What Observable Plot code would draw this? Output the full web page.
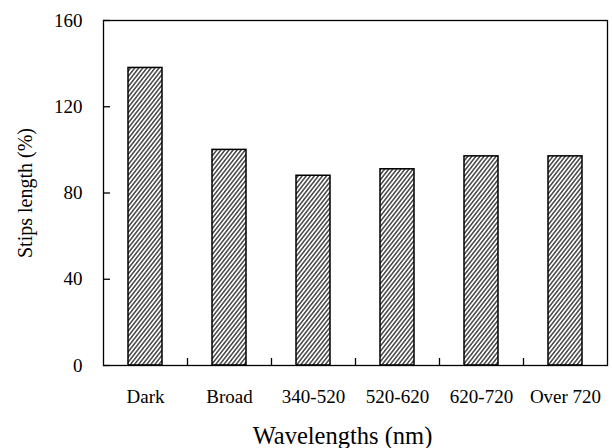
<!DOCTYPE html>
<html><head><meta charset="utf-8">
<script src="https://cdn.jsdelivr.net/npm/d3@7"></script>
<script src="https://cdn.jsdelivr.net/npm/@observablehq/plot@0.6"></script>
<style>body{margin:0;background:#fff}</style>
</head><body><div id="chart"></div>
<script>
const categories = ["Dark", "Broad", "340-520", "520-620", "620-720", "Over 720"];
const values = [138, 100, 88, 91, 97, 97];
const yTicks = [0, 40, 80, 120, 160];
const data = categories.map((c, i) => ({cat: c, value: values[i]}));

const W = 612, H = 448, mL = 103, mR = 5, mT = 20, mB = 83;
const band = (W - mL - mR) / categories.length;

function hatchDefs() {
  const ns = "http://www.w3.org/2000/svg";
  const defs = document.createElementNS(ns, "defs");
  const pat = document.createElementNS(ns, "pattern");
  pat.setAttribute("id", "hatch");
  pat.setAttribute("patternUnits", "userSpaceOnUse");
  pat.setAttribute("width", "3.2");
  pat.setAttribute("height", "10");
  pat.setAttribute("patternTransform", "rotate(38)");
  const bg = document.createElementNS(ns, "rect");
  bg.setAttribute("width", "3.2"); bg.setAttribute("height", "10"); bg.setAttribute("fill", "white");
  const ln = document.createElementNS(ns, "line");
  ln.setAttribute("x1", "0.8"); ln.setAttribute("y1", "0");
  ln.setAttribute("x2", "0.8"); ln.setAttribute("y2", "10");
  ln.setAttribute("stroke", "black"); ln.setAttribute("stroke-width", "1.1");
  pat.appendChild(bg); pat.appendChild(ln);
  defs.appendChild(pat);
  return defs;
}

const chart = Plot.plot({
  width: W, height: H,
  marginLeft: mL, marginRight: mR, marginTop: mT, marginBottom: mB,
  style: {fontFamily: "'Liberation Serif', 'Times New Roman', serif", background: "white", color: "black"},
  x: {domain: categories, paddingInner: 0.59, paddingOuter: 0.295},
  y: {domain: [0, 160]},
  marks: [
    hatchDefs,
    Plot.barY(data, {x: "cat", y: "value", fill: "url(#hatch)", stroke: "black", strokeWidth: 1.5}),
    Plot.frame({stroke: "black", strokeWidth: 1.3}),
    Plot.axisY(yTicks, {tickSize: -7, tickPadding: 28, fontSize: 19, strokeWidth: 1.3,
      label: "Stips length (%)", labelAnchor: "center", labelArrow: "none", labelOffset: 86}),
    Plot.axisX({tickSize: 0, tickPadding: 24, fontSize: 19,
      label: "Wavelengths (nm)", labelAnchor: "center", labelArrow: "none", labelOffset: 78}),
    Plot.ruleX(categories.slice(1), {x: d => d, dx: -band / 2, y1: 0, y2: 160 * 7 / (H - mT - mB), stroke: "black", strokeWidth: 1.3})
  ]
});
document.getElementById("chart").appendChild(chart);
chart.querySelectorAll("[aria-label='x-axis label'] text").forEach(t => { t.setAttribute("font-size", "24.5"); t.setAttribute("dx", "-13"); });
chart.querySelectorAll("[aria-label='y-axis label'] text").forEach(t => t.setAttribute("font-size", "20"));
</script>
</body></html>
